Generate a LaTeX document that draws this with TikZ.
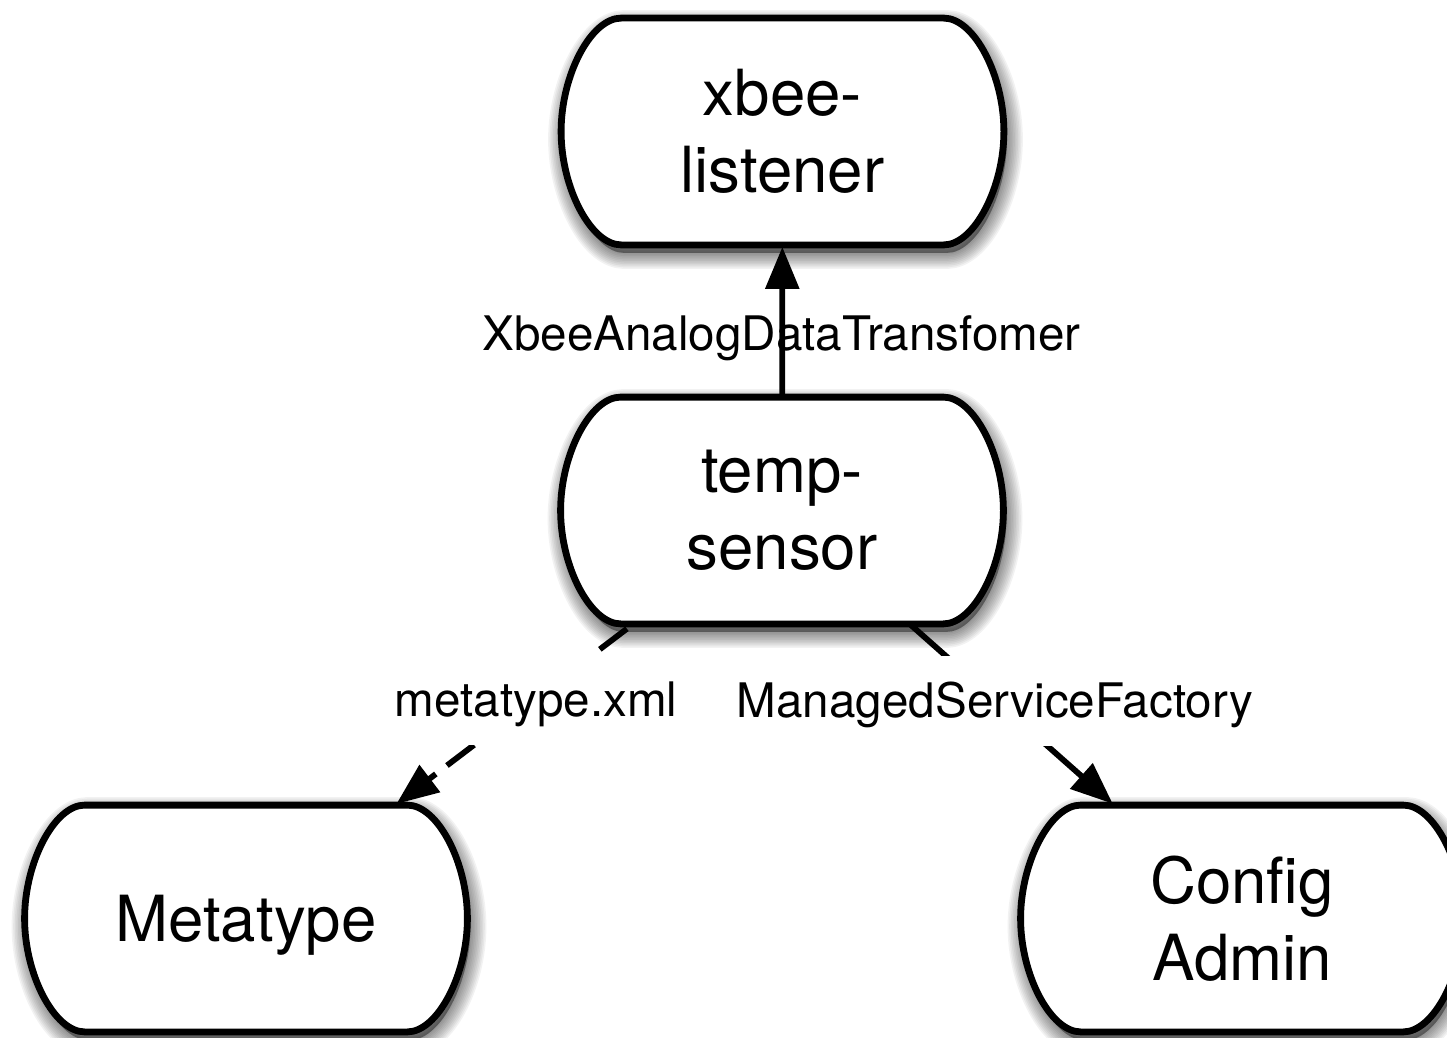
\documentclass[tikz,border=0pt]{standalone}
\usepackage{fontspec}
\setmainfont{TeX Gyre Heros}
\usetikzlibrary{arrows.meta,calc}
\pgfdeclarelayer{background}
\pgfsetlayers{background,main}

\tikzset{
  comp/.style={draw=none, inner sep=0pt, minimum width=221pt, minimum height=113pt,
    align=center, font=\fontsize{31.8}{38.5}\selectfont},
  outline/.style={draw=black, line width=3.4pt, fill=white, line join=round},
  shadowlayer/.style={fill=black, draw=black, fill opacity=0.05, draw opacity=0.05,
    line join=round},
  wire/.style={line width=2.9pt, -{Triangle[length=21pt,width=16.5pt]}, shorten >=1pt},
  edgelabel/.style={font=\fontsize{23.8}{28}\selectfont, inner xsep=8pt, inner ysep=0pt,
    text height=30.5pt, text depth=14.5pt},
}

% Path of a component outline: flat top and bottom, bulging curved sides
\newcommand\pillpath[1]{%
    ($(#1.north west)+(60,0)$) -- ($(#1.north east)+(-60,0)$)
    .. controls ($(#1.north east)+(-30,0)$) and ($(#1.east)+(0,-56.5)$) .. (#1.east)
    .. controls ($(#1.east)+(0,56.5)$) and ($(#1.south east)+(-30,0)$) .. ($(#1.south east)+(-60,0)$)
    -- ($(#1.south west)+(60,0)$)
    .. controls ($(#1.south west)+(30,0)$) and ($(#1.west)+(0,56.5)$) .. (#1.west)
    .. controls ($(#1.west)+(0,-56.5)$) and ($(#1.north west)+(30,0)$) .. cycle}

% Soft drop shadow, then the white outlined body
\newcommand\pilloutline[1]{%
  \begin{scope}[transform canvas={shift={(1.5pt,-4pt)}}]
    \foreach \k in {1,...,10} {
      \path[shadowlayer, line width=\k*1.6pt] \pillpath{#1};
    }
  \end{scope}
  \path[outline] \pillpath{#1};}

\begin{document}
\begin{tikzpicture}[x=0.5pt, y=-0.5pt]
  \useasboundingbox (0,0) rectangle (1447,1038);

  % components
  \node[comp] (xbee) at (782.5,131.5) {xbee-\\listener};
  \node[comp] (temp) at (782,510.5) {temp-\\sensor};
  \node[comp, text depth=0pt] (meta) at (246,918.5) {Metatype};
  \node[comp] (cfg)  at (1242,918.5) {Config\\Admin};

  \begin{pgfonlayer}{background}
    \begin{scope}
      \clip (0,0) rectangle (1447,1038);
      \pilloutline{xbee}
      \pilloutline{temp}
      \pilloutline{meta}
      \pilloutline{cfg}
    \end{scope}
  \end{pgfonlayer}

  % service labels
  \node[font=\fontsize{23.8}{28}\selectfont, anchor=base] (lx) at (781.5,350) {XbeeAnalogDataTransfomer};

  % dependencies
  \draw[wire] (temp) -- (xbee);
  \draw[wire, dash pattern=on 17pt off 7pt, dash phase=20pt] (temp) -- (meta);
  \draw[wire] (temp) -- (cfg);

  \node[edgelabel, fill=white, anchor=base] (lm) at (536,716) {metatype.xml};
  \node[edgelabel, fill=white, anchor=base] (lc) at (995,717) {ManagedServiceFactory};
\end{tikzpicture}
\end{document}
